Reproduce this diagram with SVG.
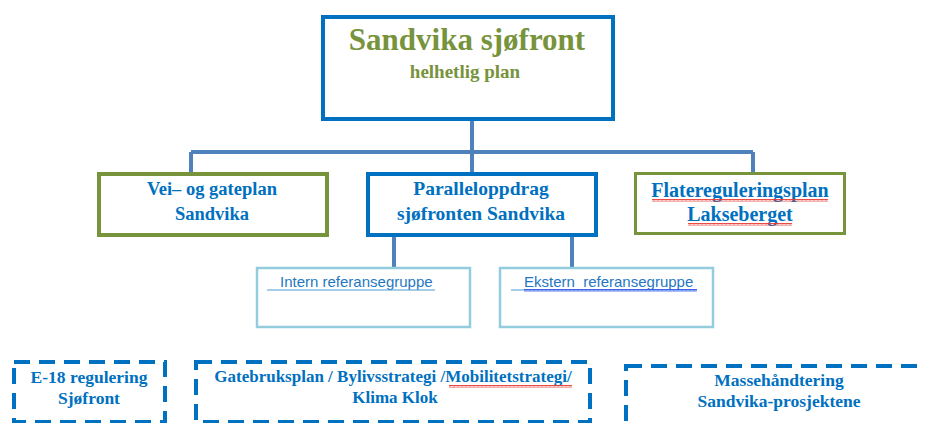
<svg xmlns="http://www.w3.org/2000/svg" width="925" height="423" viewBox="0 0 925 423">
<defs>
<style>
.bg{fill:#ffffff}
.box{fill:#ffffff}
.blue{stroke:#0070C0;stroke-width:4}
.green{stroke:#77933C;stroke-width:4}
.green3{stroke:#77933C;stroke-width:3}
.light{stroke:#93CDDD;stroke-width:2.5}
.dash{fill:none;stroke:#0070C0;stroke-width:4;stroke-dasharray:16 9}
.conn{fill:none;stroke:#4F81BD;stroke-width:4}
.t{font-family:"Liberation Serif","Times New Roman",serif;font-weight:bold;fill:#0070C0;text-anchor:middle}
.title{font-family:"Liberation Serif","Times New Roman",serif;font-weight:bold;fill:#77933C;text-anchor:middle}
.ref{font-family:"Liberation Sans",Arial,sans-serif;font-size:15px;fill:#1F78C1}
.ul{stroke:#4A9BD6;stroke-width:1}
</style>
<pattern id="wavyRed" width="4" height="3" patternUnits="userSpaceOnUse"><path d="M0 2.5 L1 0.5 L2 2.5 L3 0.5 L4 2.5" fill="none" stroke="#E53935" stroke-width="0.9"/></pattern>
<pattern id="wavyBlue" width="4" height="3" patternUnits="userSpaceOnUse"><path d="M0 2.5 L1 0.5 L2 2.5 L3 0.5 L4 2.5" fill="none" stroke="#3355EE" stroke-width="0.9"/></pattern>
</defs>
<rect class="bg" x="0" y="0" width="925" height="423"/>

<g id="connectors">
<path class="conn" d="M472 121 V152"/>
<path class="conn" d="M191 152 H753"/>
<path class="conn" d="M191 152 V172"/>
<path class="conn" d="M472 152 V172"/>
<path class="conn" d="M753 152 V172"/>
<path class="conn" d="M394 237 V267"/>
<path class="conn" d="M572 237 V267"/>
</g>

<g id="top">
<rect class="box blue" x="323" y="17" width="290" height="102"/>
<text class="title" x="467" y="50" font-size="31">Sandvika sjøfront</text>
<text class="title" x="465" y="78" font-size="19">helhetlig plan</text>
</g>

<g id="veiplan">
<rect class="box green" x="99" y="174" width="228" height="61"/>
<text class="t" x="212" y="195" font-size="18.5">Vei– og gateplan</text>
<text class="t" x="212" y="220" font-size="18.5">Sandvika</text>
</g>

<g id="parallell">
<rect class="box blue" x="368" y="174" width="228" height="61"/>
<text class="t" x="481" y="195" font-size="19.5">Paralleloppdrag</text>
<text class="t" x="481" y="220" font-size="19.5">sjøfronten Sandvika</text>
</g>

<g id="flate">
<rect class="box green3" x="635.5" y="173.5" width="209" height="60"/>
<text class="t" x="740" y="197" font-size="20">Flatereguleringsplan</text>
<text class="t" x="740" y="221" font-size="20">Lakseberget</text>
<rect x="652" y="199" width="176" height="3" fill="url(#wavyRed)"/>
<rect x="688" y="223" width="104" height="3" fill="url(#wavyRed)"/>
</g>

<g id="intern">
<rect class="box light" x="257" y="268" width="213" height="59"/>
<text class="ref" x="280" y="287">Intern referansegruppe</text>
<line class="ul" x1="267" y1="290" x2="435" y2="290"/>
</g>

<g id="ekstern">
<rect class="box light" x="500" y="268" width="213" height="59"/>
<text class="ref" x="524" y="287" xml:space="preserve">Ekstern  referansegruppe</text>
<line class="ul" x1="511" y1="290" x2="697" y2="290"/>
<rect x="524" y="289" width="173" height="3" fill="url(#wavyBlue)"/>
</g>

<g id="e18">
<rect class="dash" x="14" y="362" width="151" height="60"/>
<text class="t" x="89" y="383" font-size="17.5">E-18 regulering</text>
<text class="t" x="89" y="404" font-size="17.5">Sjøfront</text>
</g>

<g id="gatebruk">
<rect class="dash" x="196" y="362" width="394" height="60"/>
<text class="t" x="393" y="382" font-size="17">Gatebruksplan / Bylivsstrategi /Mobilitetstrategi/</text>
<text class="t" x="395" y="403" font-size="17">Klima Klok</text>
<rect x="449" y="385" width="123" height="3" fill="url(#wavyRed)"/>
</g>

<g id="masse">
<rect class="dash" x="626" y="366" width="320" height="70"/>
<text class="t" x="779" y="386" font-size="17.5">Massehåndtering</text>
<text class="t" x="779" y="407" font-size="17.5">Sandvika-prosjektene</text>
</g>
</svg>
